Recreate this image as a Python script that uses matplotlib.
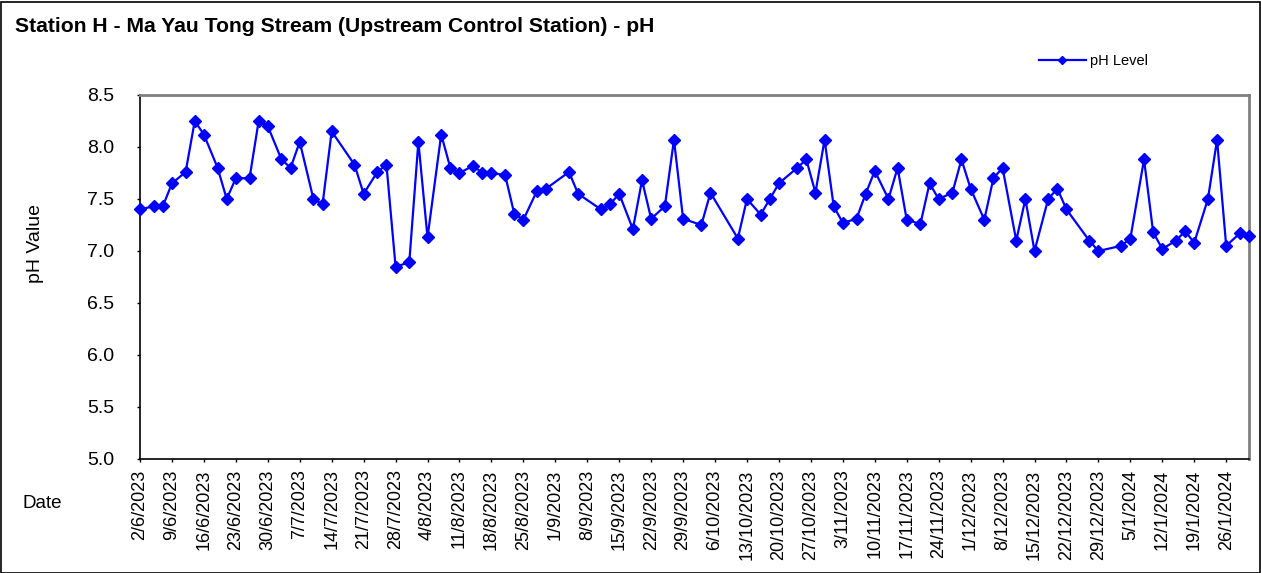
import matplotlib
matplotlib.use("Agg")
import matplotlib.pyplot as plt
from matplotlib.lines import Line2D
from matplotlib.patches import Rectangle
import pandas as pd

plt.rcParams['font.family'] = ['Liberation Sans', 'DejaVu Sans']

title = "Station H - Ma Yau Tong Stream (Upstream Control Station) - pH"
series_name = "pH Level"
y_label = "pH Value"
x_label = "Date"

dates = [
    "2023-06-02", "2023-06-05", "2023-06-07", "2023-06-09", "2023-06-12", "2023-06-14",
    "2023-06-16", "2023-06-19", "2023-06-21", "2023-06-23", "2023-06-26", "2023-06-28",
    "2023-06-30", "2023-07-03", "2023-07-05", "2023-07-07", "2023-07-10", "2023-07-12",
    "2023-07-14", "2023-07-19", "2023-07-21", "2023-07-24", "2023-07-26", "2023-07-28",
    "2023-07-31", "2023-08-02", "2023-08-04", "2023-08-07", "2023-08-09", "2023-08-11",
    "2023-08-14", "2023-08-16", "2023-08-18", "2023-08-21", "2023-08-23", "2023-08-25",
    "2023-08-28", "2023-08-30", "2023-09-04", "2023-09-06", "2023-09-11", "2023-09-13",
    "2023-09-15", "2023-09-18", "2023-09-20", "2023-09-22", "2023-09-25", "2023-09-27",
    "2023-09-29", "2023-10-03", "2023-10-05", "2023-10-11", "2023-10-13", "2023-10-16",
    "2023-10-18", "2023-10-20", "2023-10-24", "2023-10-26", "2023-10-28", "2023-10-30",
    "2023-11-01", "2023-11-03", "2023-11-06", "2023-11-08", "2023-11-10", "2023-11-13",
    "2023-11-15", "2023-11-17", "2023-11-20", "2023-11-22", "2023-11-24", "2023-11-27",
    "2023-11-29", "2023-12-01", "2023-12-04", "2023-12-06", "2023-12-08", "2023-12-11",
    "2023-12-13", "2023-12-15", "2023-12-18", "2023-12-20", "2023-12-22", "2023-12-27",
    "2023-12-29", "2024-01-03", "2024-01-05", "2024-01-08", "2024-01-10", "2024-01-12",
    "2024-01-15", "2024-01-17", "2024-01-19", "2024-01-22", "2024-01-24", "2024-01-26",
    "2024-01-29", "2024-01-31",
]
ph_values = [
    7.40, 7.43, 7.43, 7.65, 7.76, 8.25,
    8.12, 7.80, 7.50, 7.70, 7.70, 8.25,
    8.20, 7.88, 7.80, 8.05, 7.50, 7.45,
    8.15, 7.83, 7.55, 7.76, 7.83, 6.85,
    6.89, 8.05, 7.13, 8.12, 7.80, 7.75,
    7.82, 7.75, 7.75, 7.73, 7.36, 7.30,
    7.58, 7.60, 7.76, 7.55, 7.40, 7.45,
    7.55, 7.21, 7.68, 7.31, 7.43, 8.07,
    7.31, 7.25, 7.56, 7.12, 7.50, 7.35,
    7.50, 7.65, 7.80, 7.88, 7.56, 8.07,
    7.43, 7.27, 7.31, 7.55, 7.77, 7.50,
    7.80, 7.30, 7.26, 7.65, 7.50, 7.56,
    7.88, 7.60, 7.30, 7.70, 7.80, 7.10,
    7.50, 7.00, 7.50, 7.60, 7.40, 7.10,
    7.00, 7.05, 7.12, 7.88, 7.18, 7.02,
    7.10, 7.19, 7.08, 7.50, 8.07, 7.05,
    7.17, 7.14,
]
x_start = "2023-06-02"
x_end = "2024-01-31"
tick_dates = pd.date_range(x_start, "2024-01-26", freq="7D")
tick_labels = [f"{d.day}/{d.month}/{d.year}" for d in tick_dates]
y_ticks = [5.0, 5.5, 6.0, 6.5, 7.0, 7.5, 8.0, 8.5]

W, H = 1261, 573
fig = plt.figure(figsize=(W / 100, H / 100), dpi=100)
ax = fig.add_axes([140 / W, 1 - 459 / H, (1249 - 140) / W, (459 - 95) / H])

x = pd.to_datetime(dates)
color = "#0000FF"
ax.plot(x, ph_values, color=color, lw=1.6, marker="D", ms=6.5,
        mec=color, mfc=color, clip_on=False, zorder=3)

ax.set_xlim(pd.Timestamp(x_start), pd.Timestamp(x_end))
ax.set_ylim(5.0, 8.5)
ax.set_yticks(y_ticks)
ax.set_yticklabels([f"{v:.1f}" for v in y_ticks], fontsize=14)
ax.set_xticks(tick_dates)
ax.set_xticklabels(tick_labels, rotation=90, fontsize=13, ha="center", va="top")
ax.tick_params(axis="y", direction="out", length=2.5, width=1, pad=16)
ax.tick_params(axis="x", direction="out", length=2.5, width=1, pad=5)

for s in ["left", "bottom"]:
    ax.spines[s].set_color("black")
    ax.spines[s].set_linewidth(1.2)
for s in ["top", "right"]:
    ax.spines[s].set_color("#808080")
    ax.spines[s].set_linewidth(2)

fig.text(15 / W, 1 - 32 / H, title, fontsize=15.2, fontweight="bold",
         ha="left", va="baseline")
fig.text(35 / W, 1 - 244 / H, y_label, fontsize=14, rotation=90,
         ha="center", va="center")
fig.text(23 / W, 1 - 504 / H, x_label, fontsize=13.5, ha="left", va="center")

handle = Line2D([], [], color=color, lw=1.6, marker="D", ms=4,
                mec=color, mfc=color)
fig.legend([handle], [series_name], loc="center left",
           bbox_to_anchor=(1039 / W, 1 - 61 / H), frameon=False,
           fontsize=10.5, handlelength=3.2, handletextpad=0.3,
           borderpad=0, borderaxespad=0)

fig.add_artist(Rectangle((0.5 / W, 0.5 / H), (W - 2) / W, (H - 2) / H,
                         transform=fig.transFigure, fill=False,
                         edgecolor="black", lw=1.2))

fig.savefig("out.png", dpi=100)
